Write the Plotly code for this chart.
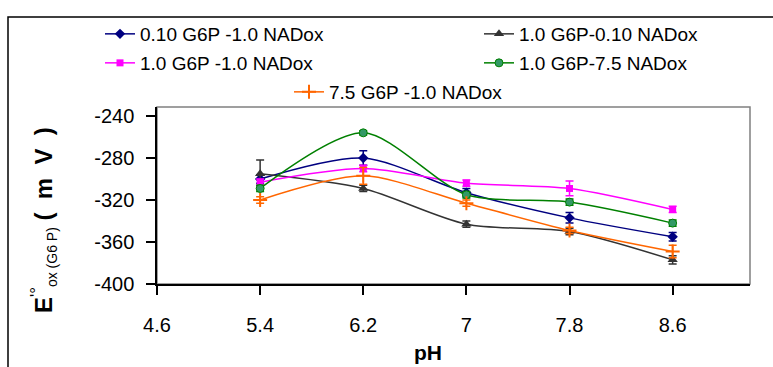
import plotly.graph_objects as go

ph = [5.4, 6.2, 7.0, 7.8, 8.6]

names = ["0.10 G6P -1.0 NADox", "1.0 G6P-0.10 NADox", "1.0 G6P -1.0 NADox",
         "1.0 G6P-7.5 NADox", "7.5 G6P -1.0 NADox"]
s_blue = [-300, -280, -313, -337, -355]
e_blue = [4, 7, 4, 5, 4]
s_black = [-295, -309, -343, -350, -377]
e_black = [13, 3, 3, 3, 4]
s_mag = [-303, -290, -304, -309, -329]
e_mag = [3, 3, 3, 7, 3]
s_green = [-309, -256, -315, -322, -342]
e_green = [3, 2, 3, 3, 3]
s_orange = [-320, -297, -323, -349, -369]
e_orange = [3, 8, 3, 3, 6]

x_ticks = [4.6, 5.4, 6.2, 7.0, 7.8, 8.6]
x_ticklabels = ["4.6", "5.4", "6.2", "7", "7.8", "8.6"]
y_ticks = [-400, -360, -320, -280, -240]
y_ticklabels = ["-400", "-360", "-320", "-280", "-240"]

FONT = "Liberation Sans, Arial, sans-serif"
W, H = 773, 367
L, R, T, B = 157, 750, 107, 284

# (name, values, errors, colour, symbol, size, legend id, legend x px, legend y px)
series = [
    (names[0], s_blue, e_blue, "#000080", "diamond", 8, "legend2", 100, 34),
    (names[1], s_black, e_black, "#333333", "triangle-up", 9, "legend3", 479, 34),
    (names[2], s_mag, e_mag, "#FF00FF", "square", 7, "legend4", 100, 63),
    (names[3], s_green, e_green, "#008000", "circle", 8, "legend5", 479, 63),
    (names[4], s_orange, e_orange, "#FF6600", "cross-thin", 10, "legend6", 289, 92),
]

fig = go.Figure()
legends = {}
for name, ys, es, col, sym, size, lg, lx, ly in series:
    marker = dict(symbol=sym, size=size, color=col,
                  line=dict(color=col, width=2 if sym == "cross-thin" else 0))
    if sym == "circle":
        marker = dict(symbol="circle", size=size, color="#339966",
                      line=dict(color="#008000", width=1))
    fig.add_trace(go.Scatter(
        x=ph, y=ys, name=name, mode="lines+markers",
        line=dict(color=col, width=1.5, shape="spline", smoothing=0.8),
        marker=marker,
        error_y=dict(type="data", array=es, visible=True, color=col,
                     thickness=1.5, width=4),
        legend=lg, showlegend=True,
    ))
    legends[lg] = dict(orientation="h", xref="container", yref="container",
                       x=lx / W, y=1 - ly / H, xanchor="left", yanchor="middle",
                       bgcolor="rgba(0,0,0,0)", visible=True,
                       font=dict(family=FONT, size=19, color="#000000"))

fig.update_layout(
    width=W, height=H, showlegend=True,
    margin=dict(l=L, r=W - R, t=T, b=H - B, pad=0, autoexpand=False),
    paper_bgcolor="white", plot_bgcolor="white",
    font=dict(family=FONT, size=20, color="#000000"),
    xaxis=dict(range=[4.6, 9.2], tickvals=x_ticks, ticktext=x_ticklabels,
               showgrid=False, zeroline=False, showline=True,
               linecolor="#000000", linewidth=1.5, ticks="outside",
               ticklen=9, tickwidth=1.5, tickcolor="#000000",
               ticklabelstandoff=13,
               tickfont=dict(family=FONT, size=20)),
    yaxis=dict(range=[-400, -231.4], tickvals=y_ticks, ticktext=y_ticklabels,
               showgrid=False, zeroline=False, showline=True,
               linecolor="#000000", linewidth=1.5, ticks="outside",
               ticklen=9, tickwidth=1.5, tickcolor="#000000",
               ticklabelstandoff=8,
               tickfont=dict(family=FONT, size=20)),
    **legends,
)

# plot-area border (top/right in grey) and outer chart frame
fig.add_shape(type="rect", xref="paper", yref="paper", x0=0, x1=1, y0=0, y1=1,
              line=dict(color="#808080", width=1.5), layer="below")
fig.add_shape(type="rect", xref="paper", yref="paper",
              x0=(8 - L) / (R - L), x1=(790 - L) / (R - L),
              y0=(B - 390) / (B - T), y1=(B - 17) / (B - T),
              line=dict(color="#000000", width=1.5))

fig.add_annotation(
    text="<b>pH</b>", xref="paper", yref="paper",
    x=(428 - L) / (R - L), y=(B - 352) / (B - T), showarrow=False,
    font=dict(family=FONT, size=21, color="#000000"),
    xanchor="center", yanchor="middle")
fig.add_annotation(
    text="<b>E</b><sup>'°</sup><sub><span style='font-size:14px'>ox (G6 P)</span></sub><b> (  m  V  )</b>",
    xref="paper", yref="paper",
    x=(43 - L) / (R - L), y=(B - 220) / (B - T), showarrow=False,
    textangle=-90, font=dict(family=FONT, size=24, color="#000000"),
    xanchor="center", yanchor="middle")

fig.write_html("out.html")
